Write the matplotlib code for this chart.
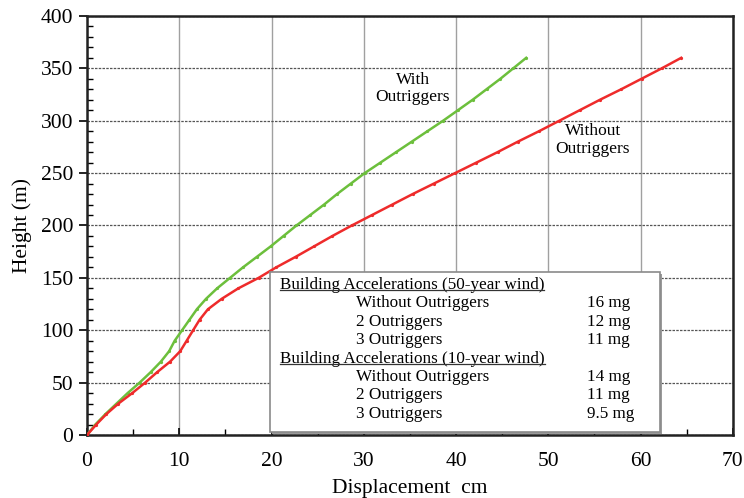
import numpy as np
import matplotlib.pyplot as plt
from matplotlib.patches import Rectangle
from matplotlib.ticker import MultipleLocator

plt.rcParams["font.family"] = ["Liberation Serif", "DejaVu Serif"]

# heights (m) and displacements (cm)
height = [0, 10, 20, 30, 40, 50, 60, 70, 80, 90, 100, 110, 120, 130, 140, 150,
          160, 170, 180, 190, 200, 210, 220, 230, 240, 250, 260, 270, 280, 290,
          300, 310, 320, 330, 340, 350, 360]
disp_with = [0, 0.9, 2.0, 3.2, 4.4, 5.7, 6.9, 8.0, 8.9, 9.5, 10.3, 11.1, 11.9,
             12.9, 14.1, 15.5, 16.9, 18.4, 19.9, 21.3, 22.7, 24.2, 25.7, 27.1,
             28.6, 30.1, 31.8, 33.5, 35.2, 36.9, 38.6, 40.2, 41.8, 43.3, 44.8,
             46.2, 47.6]
disp_without = [0, 1.0, 2.1, 3.4, 4.9, 6.3, 7.6, 9.0, 10.1, 10.8, 11.5, 12.2,
                13.1, 14.6, 16.4, 18.6, 20.5, 22.6, 24.6, 26.6, 28.7, 30.9, 33.1,
                35.3, 37.6, 39.9, 42.2, 44.5, 46.7, 49.0, 51.2, 53.4, 55.6, 57.9,
                60.1, 62.3, 64.4]

headers = ["Building Accelerations (50-year wind)",
           "Building Accelerations (10-year wind)"]
cases = ["Without Outriggers", "2 Outriggers", "3 Outriggers"]
acc_50 = ["16 mg", "12 mg", "11 mg"]
acc_10 = ["14 mg", "11 mg", "9.5 mg"]

fig = plt.figure(figsize=(7.44, 4.98), dpi=100)
ax = fig.add_axes([0.117, 0.1265, 0.868, 0.8415])

ax.plot(disp_with, height, color="#6cbf3c", lw=1.8, marker="o", ms=1.3,
        zorder=3)
ax.plot(disp_without, height, color="#ee2b2b", lw=1.8, marker="o", ms=1.3,
        zorder=3)

ax.set_xlim(0, 70)
ax.set_ylim(0, 400)
ax.xaxis.set_major_locator(MultipleLocator(10))
ax.xaxis.set_minor_locator(MultipleLocator(5))
ax.yaxis.set_major_locator(MultipleLocator(50))
ax.yaxis.set_minor_locator(MultipleLocator(10))

ax.grid(axis="x", which="major", color="#a0a0a0", lw=1.0, ls="-")
ax.grid(axis="y", which="major", color="#555555", lw=0.9, ls=(0, (2, 1)))
ax.set_axisbelow(True)

for s in ax.spines.values():
    s.set_linewidth(1.8)
    s.set_color("#222222")

ax.tick_params(axis="x", which="major", direction="in", length=5, width=1.2,
               pad=12, labelsize=15.5)
ax.tick_params(axis="x", which="minor", direction="in", length=4, width=1)
ax.tick_params(axis="y", which="major", direction="out", length=6, width=1.2,
               pad=4, labelsize=15.5)
ax.tick_params(axis="y", which="minor", direction="in", length=4, width=1)

ax.set_xlabel("Displacement  cm", fontsize=15.5, va="center")
ax.set_ylabel("Height (m)", fontsize=15.5, va="center")
ax.xaxis.set_label_coords(0.5, -0.128)
ax.yaxis.set_label_coords(-0.1, 0.5)

ax.text(35.3, 331, "With\nOutriggers", ha="center", va="center", fontsize=12.5,
        linespacing=1.1)
ax.text(54.8, 281.5, "Without\nOutriggers", ha="center", va="center",
        fontsize=12.5, linespacing=1.1)

# acceleration table box (axes coords)
bx0, by0, bx1, by1 = 0.283, 0.008, 0.887, 0.389
ax.add_patch(Rectangle((bx0 + 0.003, by0 - 0.005), bx1 - bx0, by1 - by0,
                       transform=ax.transAxes, facecolor="#9a9a9a",
                       edgecolor="none", zorder=4))
ax.add_patch(Rectangle((bx0, by0), bx1 - bx0, by1 - by0,
                       transform=ax.transAxes, facecolor="white",
                       edgecolor="#8a8a8a", lw=1.2, zorder=5))

rows = []
for h, vals in zip(headers, [acc_50, acc_10]):
    rows.append((h, None, True))
    for c, v in zip(cases, vals):
        rows.append((c, v, False))

top_px, step_px = 285, 18.4
xh = (280 - 87) / 646
xc = (356 - 87) / 646
xv = (587 - 87) / 646
hdr_texts = []
for i, (label, val, is_hdr) in enumerate(rows):
    yy = (435 - (top_px + i * step_px)) / 419
    if is_hdr:
        t = ax.text(xh, yy, label, transform=ax.transAxes, ha="left",
                    va="center", fontsize=12.3, zorder=6)
        hdr_texts.append(t)
    else:
        ax.text(xc, yy, label, transform=ax.transAxes, ha="left",
                va="center", fontsize=12.3, zorder=6)
        ax.text(xv, yy, val, transform=ax.transAxes, ha="left",
                va="center", fontsize=12.3, zorder=6)

# underline the headers
fig.canvas.draw()
inv = ax.transAxes.inverted()
for t in hdr_texts:
    bb = t.get_window_extent()
    (x0, y0), (x1, _) = inv.transform([[bb.x0, bb.y0], [bb.x1, bb.y0]])
    ax.plot([x0, x1], [y0 + 0.007, y0 + 0.007], transform=ax.transAxes,
            color="#333333", lw=0.9, zorder=6)

fig.savefig("out.png", dpi=100)
